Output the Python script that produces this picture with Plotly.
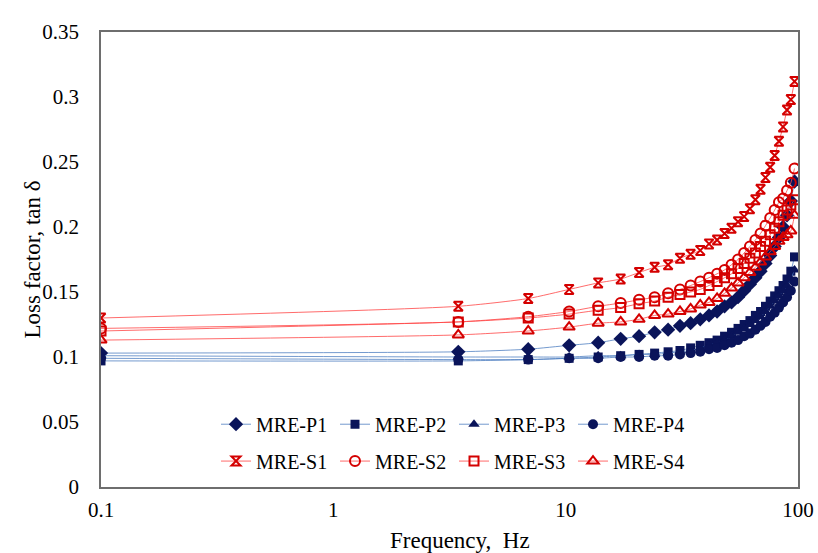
import plotly.graph_objects as go

freq = [0.1, 3.45, 6.9, 10.35, 13.8, 17.25, 20.7, 24.15, 27.6, 31.05, 34.5, 37.95,
        41.4, 44.85, 48.3, 51.75, 55.2, 58.65, 62.1, 65.55, 69.0, 72.45, 75.9,
        79.35, 82.8, 86.25, 89.7, 93.15, 96.6]

mre_p1 = [0.103, 0.104, 0.106, 0.109, 0.111, 0.114, 0.116, 0.119, 0.121, 0.124, 0.126, 0.129,
          0.132, 0.135, 0.139, 0.142, 0.146, 0.151, 0.156, 0.161, 0.166, 0.172, 0.178,
          0.185, 0.192, 0.200, 0.209, 0.220, 0.235]
mre_p2 = [0.097, 0.097, 0.098, 0.099, 0.100, 0.101, 0.102, 0.103, 0.104, 0.105, 0.107, 0.109,
          0.111, 0.113, 0.116, 0.119, 0.122, 0.125, 0.128, 0.132, 0.135, 0.139, 0.143,
          0.147, 0.151, 0.155, 0.160, 0.166, 0.177]
mre_p3 = [0.101, 0.100, 0.100, 0.100, 0.101, 0.101, 0.102, 0.102, 0.103, 0.104, 0.105, 0.107,
          0.109, 0.111, 0.113, 0.116, 0.119, 0.122, 0.125, 0.128, 0.131, 0.135, 0.139,
          0.143, 0.147, 0.151, 0.155, 0.160, 0.167]
mre_p4 = [0.099, 0.098, 0.098, 0.099, 0.099, 0.100, 0.100, 0.101, 0.101, 0.102, 0.103, 0.104,
          0.106, 0.107, 0.109, 0.111, 0.113, 0.116, 0.118, 0.121, 0.124, 0.127, 0.131,
          0.134, 0.138, 0.142, 0.146, 0.151, 0.158]
mre_s1 = [0.130, 0.139, 0.145, 0.152, 0.157, 0.160, 0.165, 0.169, 0.171, 0.176, 0.179, 0.182,
          0.187, 0.190, 0.195, 0.199, 0.204, 0.208, 0.214, 0.221, 0.229, 0.238, 0.246,
          0.255, 0.266, 0.277, 0.290, 0.298, 0.312]
mre_s2 = [0.122, 0.127, 0.131, 0.135, 0.139, 0.1415, 0.144, 0.146, 0.149, 0.152, 0.155, 0.158,
          0.161, 0.164, 0.167, 0.171, 0.175, 0.180, 0.185, 0.190, 0.195, 0.201, 0.207,
          0.213, 0.219, 0.222, 0.228, 0.234, 0.245]
mre_s3 = [0.120, 0.127, 0.130, 0.133, 0.136, 0.138, 0.141, 0.143, 0.146, 0.148, 0.150, 0.152,
          0.155, 0.158, 0.161, 0.164, 0.168, 0.172, 0.176, 0.180, 0.185, 0.189, 0.194,
          0.199, 0.204, 0.209, 0.213, 0.217, 0.221]
mre_s4 = [0.113, 0.117, 0.120, 0.123, 0.126, 0.127, 0.129, 0.132, 0.133, 0.135, 0.137, 0.140,
          0.142, 0.145, 0.149, 0.153, 0.157, 0.161, 0.165, 0.169, 0.173, 0.177, 0.181,
          0.185, 0.189, 0.192, 0.194, 0.197, 0.209]

x_ticks = [0.1, 1, 10, 100]
x_tick_text = ["0.1", "1", "10", "100"]
y_ticks = [0, 0.05, 0.1, 0.15, 0.2, 0.25, 0.3, 0.35]
y_tick_text = ["0", "0.05", "0.1", "0.15", "0.2", "0.25", "0.3", "0.35"]

FONT = "Liberation Serif, Times New Roman, serif"
NAVY = "#0a145a"
BLUE_LINE = "rgba(70,120,190,0.75)"
RED = "#d40000"
RED_LINE = "rgba(255,70,70,0.8)"

fig = go.Figure()

p_series = [
    ("MRE-P1", mre_p1, "diamond", 11),
    ("MRE-P2", mre_p2, "square", 9),
    ("MRE-P3", mre_p3, "triangle-up", 10),
    ("MRE-P4", mre_p4, "circle", 10),
]
s_series = [
    ("MRE-S1", mre_s1, "hourglass-open", 9),
    ("MRE-S2", mre_s2, "circle-open", 10),
    ("MRE-S3", mre_s3, "square-open", 9),
    ("MRE-S4", mre_s4, "triangle-up-open", 10),
]

for name, ys, sym, sz in p_series:
    fig.add_trace(go.Scatter(
        x=freq, y=ys, name=name, mode="lines+markers", legend="legend",
        line=dict(color=BLUE_LINE, width=1, shape="spline", smoothing=0.6),
        marker=dict(symbol=sym, size=sz, color=NAVY, line=dict(width=0)),
    ))

for name, ys, sym, sz in s_series:
    fig.add_trace(go.Scatter(
        x=freq, y=ys, name=name, mode="lines+markers", legend="legend2",
        line=dict(color=RED_LINE, width=1, shape="spline", smoothing=0.6),
        marker=dict(symbol=sym, size=sz, color=RED, line=dict(width=2, color=RED)),
    ))

legend_common = dict(
    orientation="h", xanchor="left", yanchor="middle",
    font=dict(family=FONT, size=20, color="black"),
    bgcolor="rgba(0,0,0,0)", entrywidth=74, entrywidthmode="pixels",
    itemwidth=30, tracegroupgap=0,
)

fig.update_layout(
    width=818, height=553,
    margin=dict(l=101, r=20, t=32, b=66, autoexpand=False),
    paper_bgcolor="white", plot_bgcolor="white",
    font=dict(family=FONT, size=20, color="black"),
    showlegend=True,
    legend=dict(x=0.165, y=0.138, **legend_common),
    legend2=dict(x=0.165, y=0.057, **legend_common),
    xaxis=dict(
        type="log", range=[-1, 2], tickvals=x_ticks, ticktext=x_tick_text,
        showgrid=False, zeroline=False, showline=True, mirror=True,
        linecolor="#6e6e6e", linewidth=1.5, ticks="", ticklabelstandoff=3,
        tickfont=dict(family=FONT, size=21, color="black"), automargin=False,
    ),
    yaxis=dict(
        range=[0, 0.35], tickvals=y_ticks, ticktext=y_tick_text,
        showgrid=False, zeroline=False, showline=True, mirror=True,
        linecolor="#6e6e6e", linewidth=1.5, ticks="", ticklabelstandoff=16,
        tickfont=dict(family=FONT, size=21, color="black"), automargin=False,
    ),
    annotations=[
        dict(text="Frequency,  Hz", xref="paper", yref="paper", x=0.515, y=-0.117,
             xanchor="center", yanchor="middle", showarrow=False,
             font=dict(family=FONT, size=23, color="black")),
        dict(text="Loss factor, tan δ", xref="paper", yref="paper", x=-0.0976, y=0.5,
             xanchor="center", yanchor="middle", showarrow=False, textangle=-90,
             font=dict(family=FONT, size=23, color="black")),
    ],
)

fig.write_html(
    "out.html",
    config={"displayModeBar": False},
    post_script="document.body.style.margin='0';document.body.style.overflow='hidden';",
)
